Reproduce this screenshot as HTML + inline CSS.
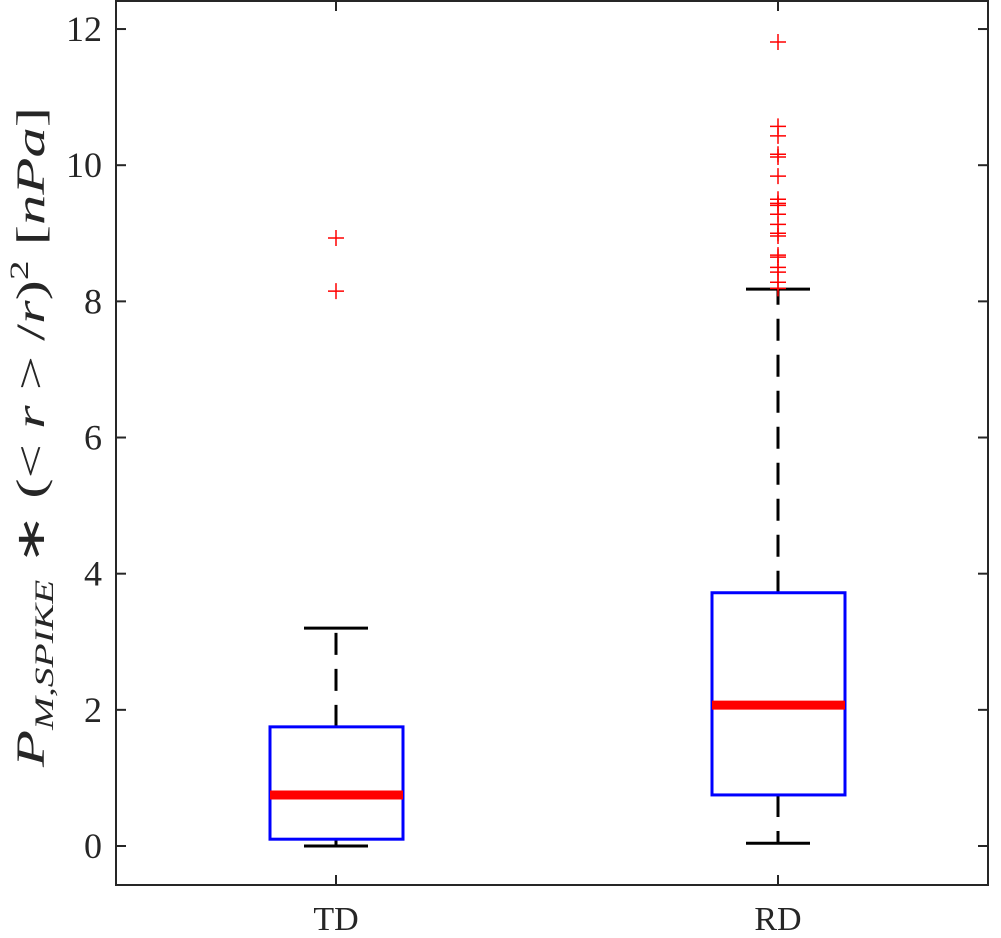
<!DOCTYPE html>
<html><head><meta charset="utf-8"><style>
body{margin:0;background:#fff;}
svg{display:block;}
svg text{font-family:"Liberation Serif","Times New Roman",serif;}
</style></head><body>
<svg id="c" width="1001" height="938"></svg>
<script>
const categories=["TD","RD"];
const q1=[0.1,0.75];
const medians=[0.75,2.07];
const q3=[1.75,3.72];
const whiskLo=[0,0.04];
const whiskHi=[3.2,8.18];
const outliersTD=[8.93,8.15];
const outliersRD=[11.81,10.57,10.43,10.16,10.12,9.84,9.50,9.44,9.41,9.28,9.13,9.0,8.96,8.68,8.65,8.50,8.43,8.28,8.19];
const yTicks=[0,2,4,6,8,10,12];
const outliers=[outliersTD,outliersRD];

const L=116,R=988,T=1,B=885;
const y=v=>846-v*68.08;
const x=i=>336+i*442;
const svg=document.getElementById('c');
const NS='http://www.w3.org/2000/svg';
function mk(t,a,p){const e=document.createElementNS(NS,t);for(const k in a)e.setAttribute(k,a[k]);(p||svg).appendChild(e);return e;}
const FF='Liberation Serif, serif';

let e=mk('rect',{x:L,y:T,width:R-L,height:B-T,fill:'none',stroke:'#262626','stroke-width':2});



yTicks.forEach(v=>{
  const g=mk('g',{});
  
  
  mk('line',{x1:L,x2:L+10,y1:y(v),y2:y(v),stroke:'#262626','stroke-width':2},g);
  mk('line',{x1:R-10,x2:R,y1:y(v),y2:y(v),stroke:'#262626','stroke-width':2},g);
  const t=mk('text',{x:L-14,y:y(v)+12,'text-anchor':'end','font-size':36,fill:'#262626','font-family':FF},g);
  t.textContent=v;
});

categories.forEach((c,i)=>{
  const cx=x(i);
  const g=mk('g',{});
  
  
  mk('line',{x1:cx,x2:cx,y1:B,y2:B-10,stroke:'#262626','stroke-width':2},g);
  mk('line',{x1:cx,x2:cx,y1:T,y2:T+10,stroke:'#262626','stroke-width':2},g);
  const t=mk('text',{x:cx,y:930,'text-anchor':'middle','font-size':34,fill:'#262626','font-family':FF},g);
  t.textContent=c;
  mk('line',{x1:cx,x2:cx,y1:y(q3[i]),y2:y(whiskHi[i]),stroke:'#000','stroke-width':3,'stroke-dasharray':'22,14'},g);
  mk('line',{x1:cx,x2:cx,y1:y(q1[i]),y2:y(whiskLo[i]),stroke:'#000','stroke-width':3,'stroke-dasharray':'22,14'},g);
  mk('line',{x1:cx-32,x2:cx+32,y1:y(whiskHi[i]),y2:y(whiskHi[i]),stroke:'#000','stroke-width':3},g);
  mk('line',{x1:cx-32,x2:cx+32,y1:y(whiskLo[i]),y2:y(whiskLo[i]),stroke:'#000','stroke-width':3},g);
  mk('rect',{x:cx-66,y:y(q3[i]),width:133,height:y(q1[i])-y(q3[i]),fill:'none',stroke:'#0000ff','stroke-width':3},g);
  mk('line',{x1:cx-66,x2:cx+67,y1:y(medians[i]),y2:y(medians[i]),stroke:'#ff0000','stroke-width':9},g);
  outliers[i].forEach(v=>{
    const p=mk('path',{d:`M${cx-8},${y(v)}h16M${cx},${y(v)-8}v16`,stroke:'#ff0000','stroke-width':1.5},g);
    
    
  });
});

const yl=mk('text',{transform:'translate(44,437) rotate(-90)','text-anchor':'middle','font-size':40,fill:'#262626','font-style':'italic','font-family':FF,textLength:660,lengthAdjust:'spacingAndGlyphs'});


yl.innerHTML='P<tspan font-size="26" dy="9">M,SPIKE</tspan><tspan dy="-9" font-style="normal"> ∗ (&lt; </tspan>r<tspan font-style="normal"> &gt; /</tspan>r<tspan font-style="normal">)</tspan><tspan font-size="26" dy="-16" font-style="normal">2</tspan><tspan dy="16" font-style="normal"> [</tspan>nPa<tspan font-style="normal">]</tspan>';
</script>
</body></html>
